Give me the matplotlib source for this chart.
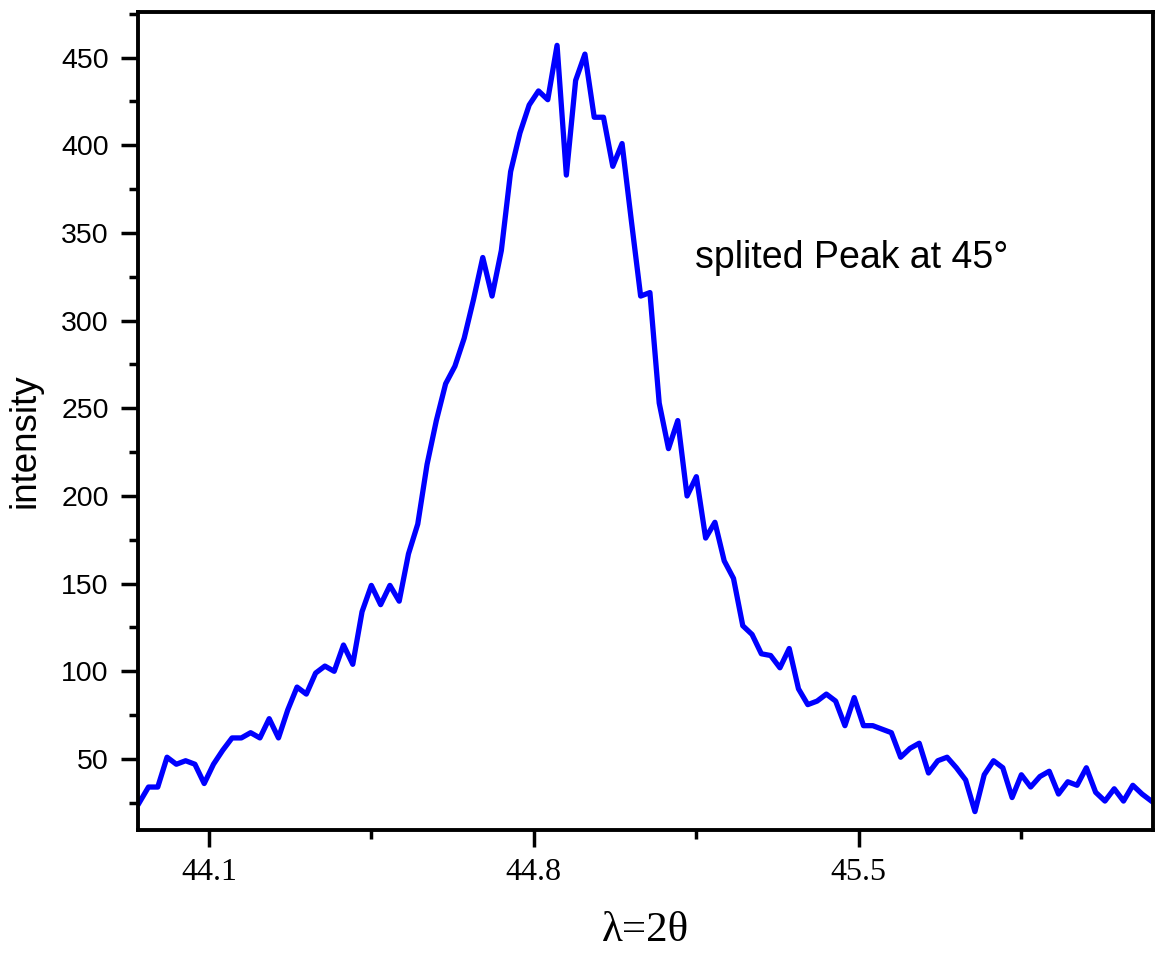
import numpy as np
import matplotlib.pyplot as plt
from matplotlib.ticker import MultipleLocator, FixedLocator

# scan grid (2theta, step 0.02 deg)
theta_start = 43.95
theta_step = 0.02

# intensity
intensity = [25, 34, 34, 51, 47, 49, 47, 36, 47, 55,
             62, 62, 65, 62, 73, 62, 78, 91, 87, 99,
             103, 100, 115, 104, 134, 149, 138, 149, 140, 167,
             184, 218, 243, 264, 274, 290, 312, 336, 314, 340,
             385, 407, 423, 431, 426, 457, 383, 437, 452, 416,
             416, 388, 401, 357, 314, 316, 253, 227, 243, 200,
             211, 176, 185, 163, 153, 126, 121, 110, 109, 102,
             113, 90, 81, 83, 87, 83, 69, 85, 69, 69,
             67, 65, 51, 56, 59, 42, 49, 51, 45, 38,
             20, 41, 49, 45, 28, 41, 34, 40, 43, 30,
             37, 35, 45, 31, 26, 33, 26, 35, 30, 26]

two_theta = theta_start + theta_step * np.arange(len(intensity))

xticks = [44.1, 44.8, 45.5]
xtick_labels = ['44.1', '44.8', '45.5']
yticks = [50, 100, 150, 200, 250, 300, 350, 400, 450]

fig = plt.figure(figsize=(11.56, 9.55), dpi=100)
ax = fig.add_axes([0.1194, 0.1309, 0.8780, 0.8565])

ax.plot(two_theta, intensity, color='#0000ff', lw=3.8, solid_joinstyle='round')

ax.set_xlim(43.9475, 46.1335)
ax.set_ylim(9.5, 476)

ax.xaxis.set_major_locator(FixedLocator(xticks))
ax.set_xticklabels(xtick_labels)
ax.xaxis.set_minor_locator(MultipleLocator(0.35))
ax.yaxis.set_major_locator(FixedLocator(yticks))
ax.set_yticklabels([str(v) for v in yticks])
ax.yaxis.set_minor_locator(MultipleLocator(25))

ax.tick_params(which='major', direction='out', length=12, width=2.5, pad=9, colors='black')
ax.tick_params(which='minor', direction='out', length=6.5, width=2.5)
ax.tick_params(top=False, right=False, which='both')
ax.tick_params(axis='x', labelsize=23, pad=8)
ax.tick_params(axis='y', labelsize=20.5)
for lab in ax.get_xticklabels():
    lab.set_fontfamily('Liberation Serif')
for lab in ax.get_yticklabels():
    lab.set_fontfamily('Liberation Sans')
for s in ax.spines.values():
    s.set_linewidth(2.8)

ax.set_xlabel('λ=2θ', family='Liberation Serif', fontsize=31)
ax.xaxis.set_label_coords(0.5, -0.1)
ax.set_ylabel('intensity', family='Liberation Sans', fontsize=26.5)
ax.yaxis.set_label_coords(-0.094, 0.476)

ax.text(45.148, 330, 'splited Peak at 45°', family='Liberation Sans',
        fontsize=27, va='baseline', ha='left')

fig.savefig('out.png', dpi=100)
